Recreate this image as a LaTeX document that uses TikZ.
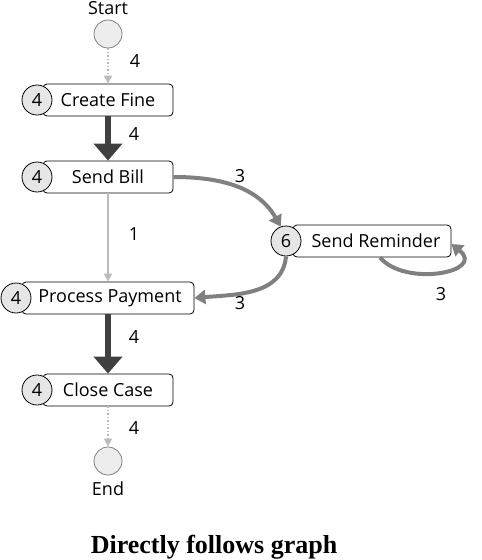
\documentclass[tikz,border=0pt]{standalone}
\usepackage{fontspec}
\setmainfont{Liberation Serif}
\newfontfamily\dfgfont{Open Sans}
\usepackage{tikz}
\usetikzlibrary{arrows.meta,calc,shapes.misc,positioning}
\definecolor{heavygray}{HTML}{404040}
\definecolor{midgray}{HTML}{808080}
\definecolor{lightgray}{HTML}{BBBBBB}
\definecolor{countfill}{HTML}{E6E6E6}
\tikzset{>=Triangle}

\begin{document}
\begin{tikzpicture}[x=1pt,y=-1pt]
\tikzstyle{activity}=[draw, rectangle, rounded corners=4pt,
    minimum height=32pt, inner sep=0pt, line width=0.8pt,
    font=\dfgfont\fontsize{18}{21}\selectfont]
\tikzstyle{count}=[draw, circle, fill=countfill, minimum size=30pt,
    inner sep=0pt, line width=0.8pt, font=\dfgfont\fontsize{18}{21}\selectfont]
\tikzstyle{terminal}=[draw=gray, circle, fill=countfill!70, minimum size=28pt,
    inner sep=0pt, line width=0.8pt]
\tikzstyle{freq}=[font=\dfgfont\fontsize{18}{21}\selectfont, inner sep=0pt]
\tikzstyle{heavy}=[draw=heavygray, line width=6pt,
    -{Triangle[width=28pt,length=17pt]}, color=heavygray]
\tikzstyle{medium}=[midgray, line width=4pt, -{Triangle[width=14pt,length=11pt]}]
\tikzstyle{light}=[lightgray, line width=1.5pt, -{Triangle[width=8pt,length=8pt]}]
\tikzstyle{dotflow}=[lightgray, line width=1.5pt, dotted,
    -{Triangle[width=8pt,length=8pt]}]
\useasboundingbox (0,0) rectangle (482,560);

% start and end
\node[terminal] (start) at (108,34) {};
\node[freq, above=5pt of start] (startL) {Start};
\node[terminal] (end) at (108,461) {};
\node[freq, below=6pt of end] (endL) {End};

% activities
\node[activity, minimum width=130pt] (fine) at (108,100) {Create Fine};
\node[count] (fineN) at (37,100) {4};
\node[activity, minimum width=130pt] (bill) at (108,177) {Send Bill};
\node[count] (billN) at (37,177) {4};
\node[activity, minimum width=158pt] (remind) at (372,241) {\hspace{8pt}Send Reminder};
\node[count] (remindN) at (286,241) {6};
\node[activity, minimum width=172pt] (pay) at (108,298) {\hspace{4pt}Process Payment};
\node[count] (payN) at (16,298) {4};
\node[activity, minimum width=130pt] (close) at (108,390) {Close Case};
\node[count] (closeN) at (37,390) {4};

% arcs
\draw[dotflow] (start) -- (fine);
\draw[heavy] (fine) -- (bill);
\draw[light] (bill) -- (pay);
\draw[medium] (bill.east) to[out=0,in=120] (remindN.110);
\draw[medium] (remindN.south) to[out=-95,in=5] (pay.east);
\draw[medium] ([xshift=8pt]remind.south) .. controls +(25,30) and +(35,28) .. ([yshift=-3pt]remind.east);
\draw[heavy] (pay) -- (close);
\draw[dotflow] (close) -- (end);

% frequencies
\node[freq] (f1) at (135,61) {4};
\node[freq] (f2) at (134,134) {4};
\node[freq] (f3) at (240,176) {3};
\node[freq] (f4) at (134,234) {1};
\node[freq] (f5) at (240,303) {3};
\node[freq] (f6) at (441,294) {3};
\node[freq] (f7) at (134,337) {4};
\node[freq] (f8) at (134,428) {4};

\node[font=\bfseries\fontsize{26}{30}\selectfont] (caption) at (214,547) {Directly follows graph};
\end{tikzpicture}
\end{document}
